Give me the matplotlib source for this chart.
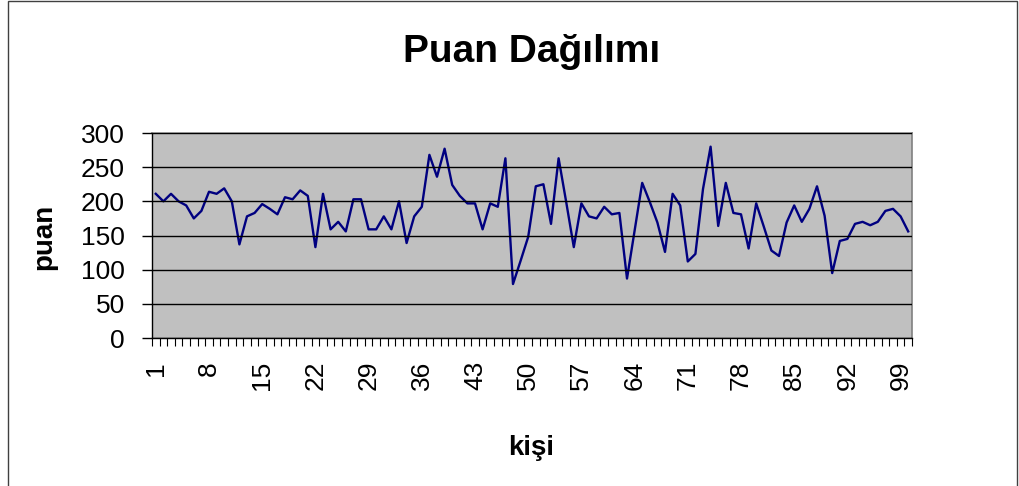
import numpy as np
import matplotlib
matplotlib.use("Agg")
import matplotlib.pyplot as plt
from matplotlib.patches import Rectangle

# datos: puan de cada kişi (1..100)
kisi = np.arange(1, 101)
puan = [211, 200, 211, 200, 194, 175, 186, 214, 211, 219, 200, 137, 178, 183, 196,
        189, 181, 206, 203, 216, 208, 133, 211, 159, 170,
        156, 203, 203, 159, 159, 178, 159, 200, 139, 178, 192, 268, 236, 277, 224,
        208, 197, 197, 159, 197, 192, 263, 79, 113, 148,
        222, 225, 167, 263, 199, 133, 197, 178, 175, 192, 181, 183, 87, 157, 227,
        199, 169, 126, 211, 194, 112, 123, 218, 280, 164,
        227, 183, 181, 131, 197, 163, 128, 120, 169, 194, 170, 189, 222, 179, 95,
        142, 145, 167, 170, 165, 170, 186, 189, 178, 156]
etiquetas_x = list(range(1, 101, 7))
ticks_y = [0, 50, 100, 150, 200, 250, 300]

plt.rcParams['font.family'] = ['Liberation Sans', 'DejaVu Sans']

W, H = 1019, 486
fig = plt.figure(figsize=(W / 100, H / 100), dpi=100)

# marco exterior del gráfico
fig.patches.append(Rectangle((7.5 / W, -0.01), (1016.5 - 7.5) / W, 1.01 - 0.5 / H,
                             transform=fig.transFigure, fill=False,
                             edgecolor='#404040', linewidth=1.0))

ax = fig.add_axes([152 / W, 1 - 338 / H, (912 - 152) / W, (338 - 133) / H])
ax.set_facecolor('#C0C0C0')

ax.plot(kisi, puan, color='#000080', linewidth=1.7)

ax.set_xlim(0.5, 100.5)
ax.set_ylim(0, 300)

# ejes
for s in ['top', 'right']:
    ax.spines[s].set_color('#808080')
    ax.spines[s].set_linewidth(1.2)
for s in ['left', 'bottom']:
    ax.spines[s].set_color('black')
    ax.spines[s].set_linewidth(1.0)

ax.set_yticks(ticks_y)
ax.set_yticklabels([str(v) for v in ticks_y], fontsize=19)
ax.tick_params(axis='y', length=7, width=1, pad=12.5)
ax.yaxis.grid(True, color='black', linewidth=1.0)
ax.set_axisbelow(False)

ax.set_xticks(etiquetas_x)
ax.set_xticklabels([str(v) for v in etiquetas_x], fontsize=19, rotation=90)
ax.set_xticks(np.arange(0.5, 101, 1), minor=True)
ax.tick_params(axis='x', which='major', length=0, pad=16.5)
ax.tick_params(axis='x', which='minor', length=6, width=0.8)

fig.text(0.5 * (152 + 912) / W, 1 - 62 / H, 'Puan Dağılımı',
         fontsize=28, fontweight='bold', ha='center', va='baseline')
fig.text(531 / W, 1 - 455 / H, 'kişi', fontsize=20, fontweight='bold',
         ha='center', va='baseline')
fig.text(44 / W, 1 - 237 / H, 'puan', fontsize=20, fontweight='bold',
         ha='center', va='center', rotation=90)

fig.savefig('out.png', dpi=100)
